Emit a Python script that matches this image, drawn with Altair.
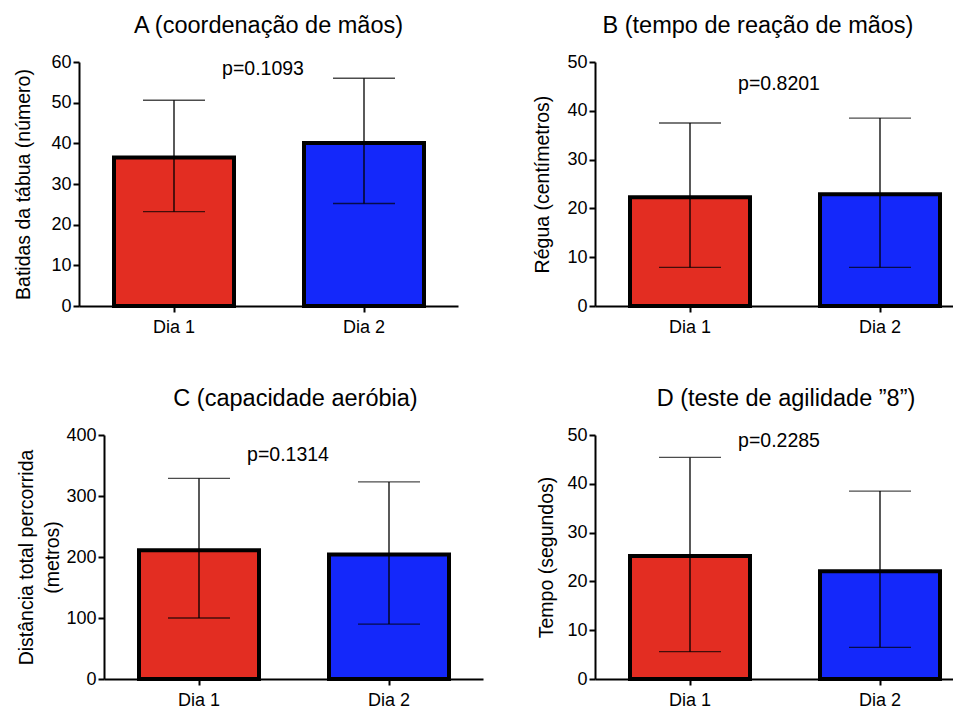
import altair as alt
import pandas as pd

days = ["Dia 1", "Dia 2"]
colors = ["#E32D22", "#1428FA"]

titles = ["A (coordenação de mãos)", "B (tempo de reação de mãos)",
          "C (capacidade aeróbia)", "D (teste de agilidade \u201d8\u201d)"]
ytitles = ["Batidas da tábua (número)", "Régua (centímetros)",
           ["Distância total percorrida", "(metros)"], "Tempo (segundos)"]
ymax = [60, 50, 400, 50]
ystep = [10, 10, 100, 10]

means = [[36.5, 40.1], [22.3, 22.9], [211, 204], [25.2, 22.1]]
lows = [[23.2, 25.2], [7.9, 7.9], [100, 90], [5.6, 6.5]]
highs = [[50.6, 56.0], [37.5, 38.5], [329, 323], [45.4, 38.5]]

pvals = ["p=0.1093", "p=0.8201", "p=0.1314", "p=0.2285"]
p_y = [58.2, 45.5, 367, 48.8]

FONT = "Liberation Sans"
H = 244
STEP = 190.0
BAND = 120.0
FIRST_CENTER = 95.0
TITLE_PAD = [17, 14, 3, 10]
TITLE_DX = [0, -16, 2, 12]
# (axis length, left shift of the y axis relative to the panel origin)
LAYOUT = [(379, 25), (358, 0), (379, 0), (358, 0)]


def band_scale(W, shift):
    pi = 1 - BAND / STEP
    po = (W / STEP - (2 - pi)) / 2
    outer = W - STEP * (2 - pi)
    align = (FIRST_CENTER - BAND / 2) / outer
    return alt.Scale(domain=days, paddingInner=pi, paddingOuter=po,
                     align=align, range=[-shift, W - shift])


def panel(i):
    W, shift = LAYOUT[i]
    df = pd.DataFrame({"dia": days, "mean": means[i], "lo": lows[i],
                       "hi": highs[i], "cor": colors})
    x = alt.X("dia:N", scale=band_scale(W, shift), sort=days,
              axis=alt.Axis(title=None, labelAngle=0, labelPadding=6))
    yscale = alt.Scale(domain=[0, ymax[i]], nice=False)
    yaxis = alt.Axis(title=ytitles[i],
                     values=list(range(0, ymax[i] + 1, ystep[i])),
                     titlePadding=TITLE_PAD[i], titleLineHeight=26,
                     offset=shift)
    base = alt.Chart(df)
    bars = base.mark_bar(stroke="black", strokeWidth=4).encode(
        x=x, y=alt.Y("mean:Q", scale=yscale, axis=yaxis),
        color=alt.Color("cor:N", scale=None))
    rule = base.mark_rule(color="black", strokeWidth=1.3).encode(
        x=x, y=alt.Y("lo:Q", scale=yscale), y2="hi:Q")
    cap_hi = base.mark_tick(color="black", thickness=1.3, size=62).encode(
        x=x, y=alt.Y("hi:Q", scale=yscale))
    cap_lo = base.mark_tick(color="black", thickness=1.3, size=62).encode(
        x=x, y=alt.Y("lo:Q", scale=yscale))
    pdf = pd.DataFrame({"t": [pvals[i]], "py": [p_y[i]]})
    ptxt = alt.Chart(pdf).mark_text(font=FONT, fontSize=19.5, color="black").encode(
        x=alt.value(184 - shift), y=alt.Y("py:Q", scale=yscale), text="t:N")
    return alt.layer(bars, rule, cap_hi, cap_lo, ptxt).properties(
        width=W - shift, height=H,
        title=alt.TitleParams(titles[i], fontSize=23.5, font=FONT,
                              fontWeight="normal", color="black", offset=16,
                              dx=-shift / 2 + TITLE_DX[i]))


chart = alt.concat(
    panel(0), panel(1), panel(2), panel(3),
    columns=2, spacing={"row": 50, "column": 49}
).properties(
    padding={"left": 5, "top": 5, "right": 0, "bottom": 0}
).configure_view(stroke=None).configure_axis(
    labelFont=FONT, titleFont=FONT, labelFontSize=18, titleFontSize=19.5,
    labelColor="black", titleColor="black", titleFontWeight="normal",
    domainColor="black", domainWidth=2, tickColor="black", tickWidth=2,
    tickSize=6, grid=False
)

chart.save("out.html", embed_options={"renderer": "svg", "actions": False})
